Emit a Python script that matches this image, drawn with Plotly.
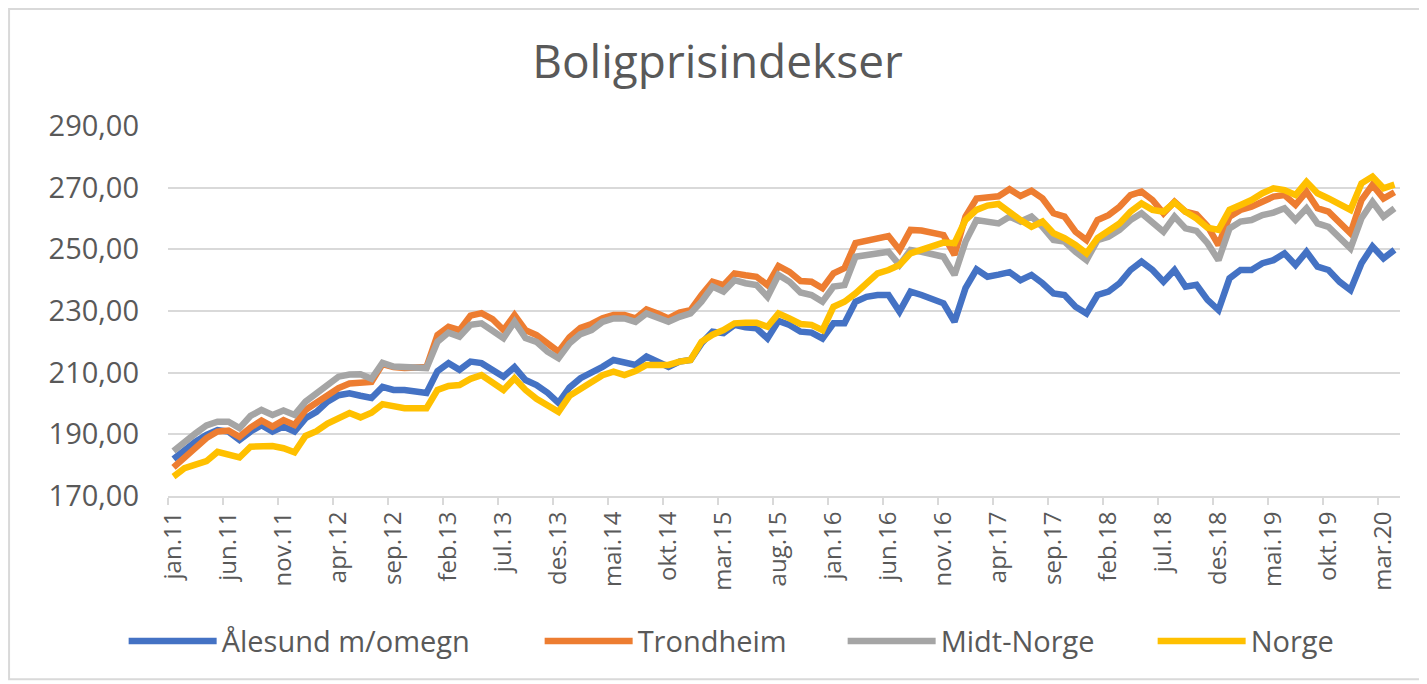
import plotly.graph_objects as go

MÅNEDER = ["jan", "feb", "mar", "apr", "mai", "jun",
           "jul", "aug", "sep", "okt", "nov", "des"]
ÅR = ["11", "12", "13", "14", "15", "16", "17", "18", "19", "20"]
PERIODER = [f"{m}.{å}" for å in ÅR for m in MÅNEDER][:112]  # jan.11 - apr.20

ÅLESUND = [
    182.0, 184.9, 187.6, 189.8, 191.4, 190.9, 188.2, 190.9, 193.0, 190.9,
    192.5, 190.9, 195.2, 197.3, 200.6, 202.7, 203.3, 202.5, 201.8, 205.4,
    204.4, 204.4, 203.8, 203.4, 210.5, 213.1, 210.9, 213.6, 213.1, 210.9,
    208.7, 211.8, 207.6, 206.0, 203.5, 200.2, 205.2, 208.2, 209.8, 211.9,
    214.1, 213.1, 212.5, 215.2, 213.6, 211.9, 213.6, 214.1, 219.5, 223.3,
    222.8, 225.5, 224.7, 224.4, 221.1, 226.8, 225.5, 223.3, 223.0, 221.1,
    226.0, 226.0, 233.0, 234.6, 235.2, 235.2, 229.8, 236.3, 235.2, 233.6,
    232.5, 226.5, 237.4, 243.5, 241.1, 241.8, 242.6, 240.0, 241.7, 239.0,
    235.7, 235.2, 231.4, 229.2, 235.2, 236.3, 239.0, 243.3, 246.0, 243.3,
    239.5, 243.3, 237.9, 238.5, 233.6, 230.3, 240.6, 243.3, 243.3, 245.5,
    246.5, 248.7, 244.9, 249.2, 244.4, 243.3, 239.5, 236.8, 245.5, 250.9,
    247.1, 249.8,
]
TRONDHEIM = [
    179.3, 182.4, 186.0, 188.8, 190.9, 191.2, 189.2, 192.2, 194.5, 192.5,
    194.6, 193.0, 197.9, 200.4, 203.0, 205.0, 206.5, 206.9, 207.0, 212.8,
    211.8, 211.5, 211.8, 211.8, 222.2, 224.9, 223.8, 228.5, 229.3, 227.4,
    223.8, 228.7, 223.8, 222.2, 219.5, 216.8, 221.5, 224.5, 225.8, 227.6,
    228.7, 228.7, 227.6, 230.5, 229.2, 227.6, 229.5, 230.3, 235.2, 239.5,
    238.4, 242.2, 241.6, 241.1, 238.4, 244.6, 242.7, 239.7, 239.5, 237.4,
    242.2, 243.9, 252.0, 252.8, 253.3, 254.3, 249.8, 256.3, 256.1, 255.2,
    254.6, 248.2, 260.6, 266.5, 266.8, 267.2, 269.5, 267.3, 269.0, 266.5,
    261.7, 260.6, 255.7, 253.0, 259.5, 261.1, 263.8, 267.6, 268.7, 266.0,
    261.7, 265.4, 262.2, 261.3, 257.5, 251.4, 260.6, 262.8, 263.8, 265.4,
    267.1, 267.6, 264.4, 268.7, 263.3, 262.2, 259.0, 255.2, 266.0, 270.9,
    266.5, 268.5,
]
MIDT_NORGE = [
    184.6, 187.8, 190.3, 192.9, 194.1, 194.1, 192.0, 196.0, 197.9, 196.3,
    197.7, 196.3, 200.6, 203.3, 206.2, 208.7, 209.4, 209.5, 208.0, 213.2,
    212.0, 211.8, 211.8, 211.5, 220.0, 223.0, 221.7, 225.5, 226.0, 223.8,
    221.2, 226.5, 221.2, 220.0, 216.8, 214.7, 219.5, 222.5, 223.8, 226.5,
    227.6, 227.6, 226.5, 229.2, 228.1, 226.5, 228.1, 229.2, 233.0, 237.9,
    236.3, 240.0, 239.0, 238.4, 234.6, 241.7, 239.5, 236.0, 235.2, 233.0,
    237.9, 238.4, 247.6, 248.2, 248.7, 249.2, 244.9, 249.8, 249.2, 248.2,
    247.6, 241.7, 252.5, 259.5, 259.0, 258.4, 260.6, 259.0, 260.6, 257.3,
    253.0, 252.5, 249.2, 246.5, 253.0, 254.1, 256.3, 259.5, 261.7, 259.0,
    255.7, 260.6, 256.8, 256.0, 252.0, 246.5, 256.8, 259.0, 259.5, 261.1,
    261.9, 263.3, 259.5, 263.3, 258.4, 257.3, 254.1, 250.3, 260.1, 265.4,
    260.6, 263.3,
]
NORGE = [
    176.3, 179.0, 180.2, 181.3, 184.3, 183.3, 182.5, 186.0, 186.0, 186.2,
    185.5, 184.2, 189.5, 191.0, 193.5, 195.5, 196.9, 195.5, 197.0, 199.8,
    199.0, 198.5, 198.5, 198.5, 204.4, 205.7, 206.0, 208.0, 209.2, 207.0,
    204.4, 208.2, 204.4, 201.5, 199.3, 197.3, 202.5, 204.6, 207.0, 209.2,
    210.3, 209.2, 210.5, 212.5, 212.5, 212.5, 213.6, 214.1, 220.0, 222.3,
    223.8, 226.0, 226.2, 226.2, 224.9, 229.2, 227.6, 225.8, 225.5, 223.8,
    231.4, 233.0, 235.7, 239.0, 242.2, 243.3, 244.9, 248.7, 249.8, 251.1,
    252.2, 252.0, 259.5, 262.8, 264.2, 264.7, 262.0, 259.5, 257.3, 259.0,
    255.2, 253.6, 251.4, 248.7, 253.6, 255.7, 258.4, 262.2, 264.9, 262.8,
    262.2, 265.2, 262.2, 260.0, 257.0, 256.3, 262.8, 264.4, 266.0, 268.2,
    269.8, 269.2, 267.6, 271.9, 268.2, 266.5, 264.9, 262.8, 271.4, 273.6,
    269.8, 271.0,
]

# navn, verdier, farge, bredde på legendeoppføringen (px)
SERIER = [
    ("Ålesund m/omegn", ÅLESUND, "#4472c4", 313),
    ("Trondheim", TRONDHEIM, "#ed7d31", 200),
    ("Midt-Norge", MIDT_NORGE, "#a5a5a5", 207),
    ("Norge", NORGE, "#ffc000", 90),
]

TEKST = "#595959"
RUTENETT = "#d9d9d9"
FONT = "Open Sans, sans-serif"

# siden har 8 px marg i body, så figuren er 8 px mindre enn vinduet
BREDDE, HØYDE = 1419, 676

fig = go.Figure()
for navn, verdier, farge, lw in SERIER:
    fig.add_trace(go.Scatter(
        x=PERIODER, y=verdier, mode="lines", name=navn,
        line=dict(color=farge, width=6.5), legendwidth=lw,
    ))

fig.update_layout(
    width=BREDDE, height=HØYDE,
    paper_bgcolor="white", plot_bgcolor="white",
    font=dict(family=FONT, color=TEKST),
    margin=dict(l=160, r=27, t=118, b=188),
    separators=", ",
    title=dict(text="Boligprisindekser", x=0.5, xanchor="center",
               y=1 - 54 / HØYDE, yanchor="middle",
               font=dict(size=46, color=TEKST, family=FONT)),
    showlegend=True,
    legend=dict(orientation="h", x=-0.036, xanchor="left",
                y=-0.392, yanchor="middle",
                font=dict(size=29, color=TEKST), itemwidth=88,
                bgcolor="rgba(0,0,0,0)"),
    shapes=[dict(type="rect", xref="paper", yref="paper",
                 x0=-0.129, x1=1.017, y0=-0.495, y1=1.316,
                 line=dict(color=RUTENETT, width=2), layer="below")],
)
fig.update_xaxes(
    type="category", range=[-0.5, 111.5],
    tickmode="linear", tick0=0, dtick=5, tickson="boundaries",
    tickangle=-90, tickfont=dict(size=24, color=TEKST),
    ticks="outside", ticklen=7, tickcolor=RUTENETT, tickwidth=2,
    showgrid=False, showline=True, linecolor=RUTENETT, linewidth=2,
    ticklabelstandoff=4,
)
fig.update_yaxes(
    range=[170, 290], dtick=20, tick0=170, tickformat=".2f",
    tickfont=dict(size=29, color=TEKST),
    showgrid=True, gridcolor=RUTENETT, gridwidth=2,
    zeroline=False, showline=False, ticks="", ticklabelstandoff=28,
)

fig.write_html("out.html")
